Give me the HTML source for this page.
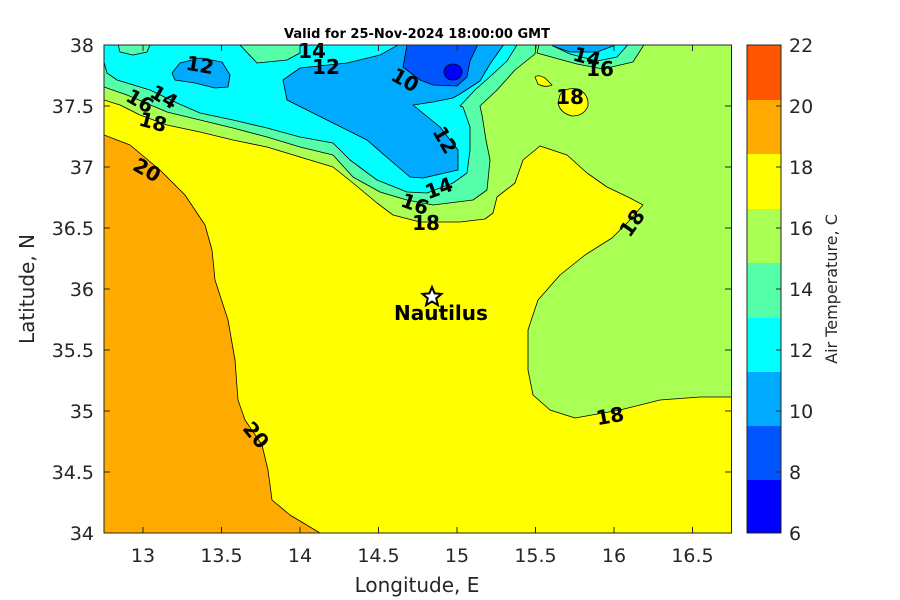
<!DOCTYPE html>
<html><head><meta charset="utf-8"><style>
html,body{margin:0;padding:0;background:#fff;}
svg{display:block;font-family:"Liberation Sans","DejaVu Sans",sans-serif;}
.cl{font-family:"DejaVu Sans","Liberation Sans",sans-serif;font-weight:bold;font-size:20px;fill:#000;text-anchor:middle;dominant-baseline:central;}
.tk{font-family:"DejaVu Sans","Liberation Sans",sans-serif;font-size:19px;fill:#262626;}
</style></head><body>
<svg width="900" height="600" viewBox="0 0 900 600" xmlns="http://www.w3.org/2000/svg">
<defs><clipPath id="pa"><rect x="104" y="45" width="627.5" height="488"/></clipPath></defs>
<text x="417" y="38" font-family="DejaVu Sans,Liberation Sans,sans-serif" font-weight="bold" font-size="13" text-anchor="middle" fill="#000">Valid for 25-Nov-2024 18:00:00 GMT</text>
<g clip-path="url(#pa)" stroke="#000" stroke-width="0.8" stroke-linejoin="round">
<rect x="104" y="45" width="628" height="488" fill="#ffff00" stroke="none"/>
<path fill="#ffaa00" d="M104,135 L130,145 L160,170 L185,195 L205,225 L212,250 L215,280 L228,320 L235,360 L238,400 L245,420 L262,445 L268,470 L272,500 L290,515 L320,533 L104,533 Z"/>
<path fill="#aaff55" d="M104,100 L120,105 L140,115 L167,125 L200,132 L233,140 L267,147 L300,157 L333,167 L353,183 L377,203 L393,215 L420,222 L460,222 L485,219 L493,213 L497,197 L515,183 L523,160 L540,146 L567,155 L587,173 L607,187 L630,198 L643,205 L628,222 L612,238 L585,255 L560,275 L538,300 L528,330 L528,370 L533,395 L550,410 L575,418 L620,410 L660,400 L700,397 L735,397 L735,40 L100,40 Z"/>
<path fill="#ffff00" d="M535,77 Q538,74 545,78 L552,85 Q545,88 538,84 Z"/>
<path fill="#ffff00" d="M560,95 Q565,87 578,89 Q589,94 588,106 Q584,116 572,116 Q560,113 558,103 Z"/>
<path fill="#55ffaa" d="M104,87 L127,95 L167,112 L200,120 L233,128 L267,137 L300,147 L333,155 L353,177 L380,192 L407,200 L433,205 L473,200 L487,190 L490,160 L486,140 L482,115 L480,106 L497,90 L515,70 L535,54 L537,40 L100,40 Z"/>
<path fill="#55ffaa" d="M540,40 L537,53 L555,58 L577,64 L603,69 L633,62 L647,40 Z"/>
<path fill="#00ffff" d="M104,62 L107,73 L117,80 L150,90 L177,103 L200,113 L233,120 L267,128 L300,137 L333,143 L350,160 L377,180 L407,192 L427,193 L453,183 L467,173 L470,150 L470,127 L463,107 L460,106 L475,90 L493,74 L507,61 L520,40 L300,40 L300,53 L287,60 L257,63 L240,45 L150,40 L150,45 L147,52 L133,55 L120,52 L117,40 L100,40 Z"/>
<path fill="#00ffff" d="M550,40 L553,46 L570,54 L597,61 L617,57 L632,40 Z"/>
<path fill="#00aaff" d="M172,73 L180,63 L200,58 L222,62 L230,75 L228,87 L215,88 L195,83 L175,80 Z"/>
<path fill="#00aaff" d="M407,40 L380,55 L347,63 L300,68 L283,80 L287,100 L307,110 L333,123 L367,140 L390,160 L410,177 L423,178 L458,170 L458,150 L440,127 L413,105 L433,102 L453,98 L460,94 L480,81 L490,64 L507,40 Z"/>
<path fill="#00aaff" d="M553,40 L553,46 L570,52 L597,52 L613,46 L615,40 Z"/>
<path fill="#0055ff" d="M407,40 L407,45 L403,67 L420,80 L433,85 L457,86 L467,77 L470,61 L480,40 Z"/>
<ellipse cx="453" cy="72" rx="9" ry="8" fill="#0000ff"/>
</g>
<g>
<text class="cl" transform="translate(200,65) rotate(10)">12</text>
<text class="cl" transform="translate(312,51)">14</text>
<text class="cl" transform="translate(326,67)">12</text>
<text class="cl" transform="translate(405,80) rotate(30)">10</text>
<text class="cl" transform="translate(587,57) rotate(15)">14</text>
<text class="cl" transform="translate(600,69)">16</text>
<text class="cl" transform="translate(570,97)">18</text>
<text class="cl" transform="translate(140,101) rotate(30)">16</text>
<text class="cl" transform="translate(164,97) rotate(30)">14</text>
<text class="cl" transform="translate(153,122) rotate(15)">18</text>
<text class="cl" transform="translate(445,140) rotate(60)">12</text>
<text class="cl" transform="translate(439,188) rotate(-20)">14</text>
<text class="cl" transform="translate(415,204) rotate(20)">16</text>
<text class="cl" transform="translate(426,223)">18</text>
<text class="cl" transform="translate(147,170) rotate(30)">20</text>
<text class="cl" transform="translate(632,223) rotate(-55)">18</text>
<text class="cl" transform="translate(256,435) rotate(50)">20</text>
<text class="cl" transform="translate(610,416) rotate(-10)">18</text>
</g>
<polygon points="432,287 434.6,293.4 441.5,293.9 436.2,298.4 437.9,305.1 432,301.5 426.1,305.1 427.8,298.4 422.5,293.9 429.4,293.4" fill="#fff" stroke="#000" stroke-width="2"/>
<text x="441" y="320" font-family="DejaVu Sans,Liberation Sans,sans-serif" font-weight="bold" font-size="20" text-anchor="middle" fill="#000">Nautilus</text>
<rect x="104" y="45" width="627.5" height="488" fill="none" stroke="#262626" stroke-width="1"/>
<g stroke="#262626" stroke-width="1">
<path d="M143,533v-6M221.5,533v-6M300,533v-6M378.5,533v-6M457,533v-6M535.5,533v-6M614,533v-6M692.5,533v-6"/>
<path d="M143,45v6M221.5,45v6M300,45v6M378.5,45v6M457,45v6M535.5,45v6M614,45v6M692.5,45v6"/>
<path d="M104,45h6M104,106h6M104,167h6M104,228h6M104,289h6M104,350h6M104,411h6M104,472h6M104,533h6"/>
<path d="M731,45h-6M731,106h-6M731,167h-6M731,228h-6M731,289h-6M731,350h-6M731,411h-6M731,472h-6M731,533h-6"/>
</g>
<g class="tk" text-anchor="middle">
<text x="143" y="562">13</text><text x="221.5" y="562">13.5</text><text x="300" y="562">14</text><text x="378.5" y="562">14.5</text><text x="457" y="562">15</text><text x="535.5" y="562">15.5</text><text x="614" y="562">16</text><text x="692.5" y="562">16.5</text>
</g>
<g class="tk" text-anchor="end">
<text x="94" y="52">38</text><text x="94" y="113">37.5</text><text x="94" y="174">37</text><text x="94" y="235">36.5</text><text x="94" y="296">36</text><text x="94" y="357">35.5</text><text x="94" y="418">35</text><text x="94" y="479">34.5</text><text x="94" y="540">34</text>
</g>
<text x="417" y="592" font-family="DejaVu Sans,Liberation Sans,sans-serif" font-size="20" fill="#262626" text-anchor="middle">Longitude, E</text>
<text transform="translate(34,289) rotate(-90)" font-family="DejaVu Sans,Liberation Sans,sans-serif" font-size="20" fill="#262626" text-anchor="middle">Latitude, N</text>
<g stroke="none">
<rect x="747" y="45" width="34" height="55" fill="#ff5500"/>
<rect x="747" y="100" width="34" height="54" fill="#ffaa00"/>
<rect x="747" y="154" width="34" height="55" fill="#ffff00"/>
<rect x="747" y="209" width="34" height="54" fill="#aaff55"/>
<rect x="747" y="263" width="34" height="55" fill="#55ffaa"/>
<rect x="747" y="318" width="34" height="54" fill="#00ffff"/>
<rect x="747" y="372" width="34" height="54" fill="#00aaff"/>
<rect x="747" y="426" width="34" height="54" fill="#0055ff"/>
<rect x="747" y="480" width="34" height="53" fill="#0000ff"/>
</g>
<rect x="747" y="45" width="34" height="488" fill="none" stroke="#262626" stroke-width="1"/>
<path stroke="#262626" d="M781,106h-5M781,167h-5M781,228h-5M781,289h-5M781,350h-5M781,411h-5M781,472h-5"/>
<g class="tk" text-anchor="start">
<text x="789" y="52">22</text><text x="789" y="113">20</text><text x="789" y="174">18</text><text x="789" y="235">16</text><text x="789" y="296">14</text><text x="789" y="357">12</text><text x="789" y="418">10</text><text x="789" y="479">8</text><text x="789" y="540">6</text>
</g>
<text transform="translate(837,289) rotate(-90)" font-family="DejaVu Sans,Liberation Sans,sans-serif" font-size="16" fill="#262626" text-anchor="middle">Air Temperature, C</text>
</svg>
</body></html>
